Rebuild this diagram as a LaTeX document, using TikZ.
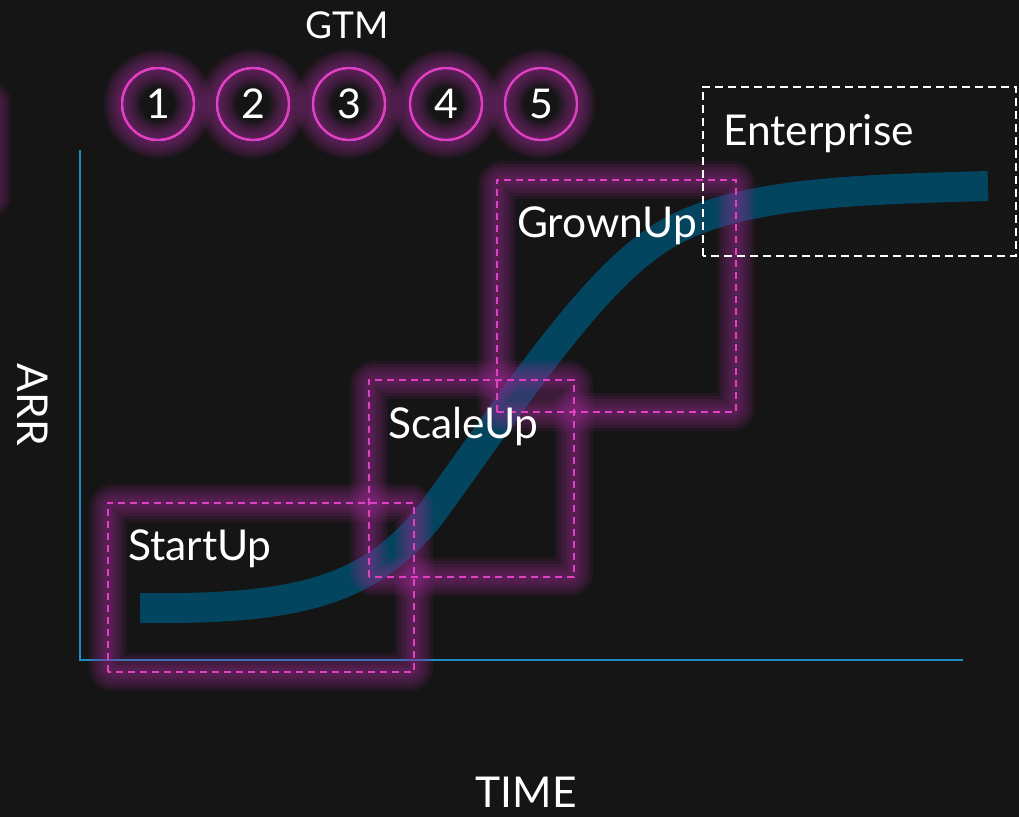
\documentclass[tikz,border=0pt]{standalone}
\usepackage{fontspec}
\setmainfont{Lato}
\definecolor{bg}{HTML}{151515}
\definecolor{axis}{HTML}{1E8BC3}
\definecolor{curvecol}{HTML}{03445E}
\definecolor{neon}{HTML}{E040C4}
\definecolor{halo}{HTML}{9A2C92}
\tikzset{
  lbl/.style={text=white, inner sep=0pt, font=\fontsize{42.5}{50}\selectfont},
  stage/.style={draw=neon, dash pattern=on 7pt off 5pt, line width=1.9pt, inner sep=0pt},
  ent/.style={draw=white, dash pattern=on 8pt off 5pt, line width=1.9pt, inner sep=0pt},
  gtm/.style={circle, minimum size=72pt, inner sep=0pt, text=white, font=\fontsize{41}{48}\selectfont},
  axisline/.style={draw=axis, line width=1.8pt},
}
% soft neon halo: stacked translucent strokes of growing width
\newcommand{\halorect}[2]{%
  \foreach \w in {38,32,26,20,14,8}
    \draw[halo, opacity=0.11, line width=\w pt, rounded corners=6pt] #1 rectangle #2;}
\newcommand{\halocirc}[1]{%
  \foreach \w in {36,30,24,18,12,6}
    \draw[halo, opacity=0.12, line width=\w pt] (#1.center) circle (36pt);}
\begin{document}
\begin{tikzpicture}[x=1pt,y=-1pt]
\fill[bg] (0,0) rectangle (1019,817);
\useasboundingbox (0,0) rectangle (1019,817);

% axes
\coordinate (o) at (80,660);
\coordinate (ytop) at (80,150);
\coordinate (xend) at (963,660);
\draw[axisline] (ytop) -- (o) -- (xend);

% growth curve
\coordinate (c0) at (140,608);
\coordinate (c1) at (430,515);
\coordinate (c2) at (650,245);
\coordinate (c3) at (988,186);
\draw[curvecol, line width=30pt] (c0) .. controls (300,610) and (370,590) .. (c1)
  .. controls (500,420) and (580,295) .. (c2)
  .. controls (720,192) and (850,190) .. (c3);

% stage boxes
\node[minimum width=306pt, minimum height=169pt] (startup) at (261,587.5) {};
\node[minimum width=205pt, minimum height=197pt] (scaleup) at (471.5,478.5) {};
\node[minimum width=239pt, minimum height=232pt] (grownup) at (616.5,296) {};
\node[minimum width=313pt, minimum height=169pt] (enterprise) at (859.5,171.5) {};

% halos
\halorect{(startup.south west)}{(startup.north east)}
\halorect{(scaleup.south west)}{(scaleup.north east)}
\halorect{(grownup.south west)}{(grownup.north east)}
\halorect{(-200,98)}{(-8,200)}

% GTM circles
\foreach \i/\x in {1/158,2/253,3/349,4/446,5/541}
  \node[gtm] (g\i) at (\x,104) {\i};
\foreach \i in {1,...,5} \halocirc{g\i}
\foreach \i in {1,...,5} \draw[neon, line width=1.9pt] (g\i.center) circle (36pt);

% dashed outlines
\draw[stage] (startup.south west) rectangle (startup.north east);
\draw[stage] (scaleup.south west) rectangle (scaleup.north east);
\draw[stage] (grownup.south west) rectangle (grownup.north east);
\draw[ent] (enterprise.south west) rectangle (enterprise.north east);

% labels
\node[lbl, anchor=base west] (lstart) at (128,560) {StartUp};
\node[lbl, anchor=base west] (lscale) at (388,438) {ScaleUp};
\node[lbl, anchor=base west] (lgrown) at (517,237) {GrownUp};
\node[lbl, anchor=base west] (lent) at (723,145) {Enterprise};
\node[lbl, anchor=base, font=\fontsize{37}{44}\selectfont] (gtmlbl) at (347,38) {GTM};
\node[lbl, anchor=base] (timelbl) at (526,807) {TIME};
\node[lbl, anchor=base, rotate=-90] (arrlbl) at (17,405) {ARR};
\end{tikzpicture}
\end{document}
